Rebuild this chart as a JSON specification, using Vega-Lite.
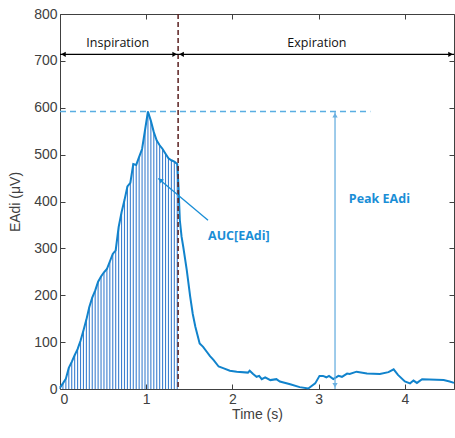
{
  "$schema": "https://vega.github.io/schema/vega-lite/v6.json",
  "width": 394,
  "height": 375,
  "autosize": "none",
  "padding": {"left": 60, "top": 14, "right": 1, "bottom": 49},
  "background": "white",
  "config": {"view": {"stroke": null}, "font": "Liberation Sans"},
  "datasets": {
    "curve": [
      {"t": 0.000, "v": 3}, {"t": 0.034, "v": 12}, {"t": 0.068, "v": 22}, {"t": 0.102, "v": 45},
      {"t": 0.136, "v": 58}, {"t": 0.170, "v": 72}, {"t": 0.204, "v": 85}, {"t": 0.238, "v": 103},
      {"t": 0.272, "v": 125}, {"t": 0.306, "v": 148}, {"t": 0.340, "v": 175}, {"t": 0.374, "v": 195},
      {"t": 0.408, "v": 210}, {"t": 0.442, "v": 229}, {"t": 0.476, "v": 240}, {"t": 0.510, "v": 249},
      {"t": 0.544, "v": 256}, {"t": 0.578, "v": 272}, {"t": 0.612, "v": 288}, {"t": 0.646, "v": 296},
      {"t": 0.680, "v": 345}, {"t": 0.714, "v": 377}, {"t": 0.748, "v": 403}, {"t": 0.782, "v": 432},
      {"t": 0.816, "v": 440}, {"t": 0.850, "v": 480}, {"t": 0.884, "v": 478}, {"t": 0.918, "v": 495},
      {"t": 0.952, "v": 512}, {"t": 0.986, "v": 552}, {"t": 1.020, "v": 592}, {"t": 1.054, "v": 572},
      {"t": 1.088, "v": 548}, {"t": 1.122, "v": 530}, {"t": 1.156, "v": 520}, {"t": 1.190, "v": 512},
      {"t": 1.224, "v": 502}, {"t": 1.258, "v": 492}, {"t": 1.292, "v": 488}, {"t": 1.326, "v": 485},
      {"t": 1.360, "v": 480},
      {"t": 1.375, "v": 430}, {"t": 1.39, "v": 360}, {"t": 1.41, "v": 325}, {"t": 1.43, "v": 303},
      {"t": 1.47, "v": 254}, {"t": 1.51, "v": 197}, {"t": 1.54, "v": 160}, {"t": 1.57, "v": 133},
      {"t": 1.62, "v": 97}, {"t": 1.66, "v": 90}, {"t": 1.70, "v": 80}, {"t": 1.74, "v": 70},
      {"t": 1.78, "v": 62}, {"t": 1.84, "v": 48}, {"t": 1.90, "v": 44}, {"t": 1.97, "v": 39},
      {"t": 2.05, "v": 37}, {"t": 2.18, "v": 35}, {"t": 2.20, "v": 39}, {"t": 2.24, "v": 32},
      {"t": 2.28, "v": 26}, {"t": 2.31, "v": 28}, {"t": 2.34, "v": 21}, {"t": 2.38, "v": 25},
      {"t": 2.44, "v": 19}, {"t": 2.51, "v": 21}, {"t": 2.55, "v": 16}, {"t": 2.67, "v": 10},
      {"t": 2.78, "v": 4}, {"t": 2.88, "v": 1}, {"t": 2.96, "v": 12}, {"t": 3.01, "v": 28},
      {"t": 3.05, "v": 28}, {"t": 3.09, "v": 25}, {"t": 3.12, "v": 28}, {"t": 3.17, "v": 21},
      {"t": 3.23, "v": 28}, {"t": 3.27, "v": 26}, {"t": 3.33, "v": 33}, {"t": 3.36, "v": 32},
      {"t": 3.44, "v": 37}, {"t": 3.56, "v": 33}, {"t": 3.71, "v": 32}, {"t": 3.81, "v": 36},
      {"t": 3.87, "v": 42}, {"t": 3.92, "v": 30}, {"t": 4.00, "v": 16}, {"t": 4.06, "v": 12},
      {"t": 4.10, "v": 18}, {"t": 4.14, "v": 13}, {"t": 4.20, "v": 21}, {"t": 4.45, "v": 19},
      {"t": 4.52, "v": 16}, {"t": 4.57, "v": 13}
    ],
    "segments": [
      {"kind": "phase", "t": 0, "t2": 1.37, "v": 714, "v2": 714},
      {"kind": "phase", "t": 1.37, "t2": 4.57, "v": 714, "v2": 714},
      {"kind": "peak", "t": 3.19, "t2": 3.19, "v": 0, "v2": 592},
      {"kind": "auc", "t": 1.717, "t2": 1.14, "v": 360, "v2": 449}
    ],
    "heads": [
      {"kind": "phase", "dir": "left", "t": 0.04, "v": 714},
      {"kind": "phase", "dir": "right", "t": 1.33, "v": 714},
      {"kind": "phase", "dir": "left", "t": 1.41, "v": 714},
      {"kind": "phase", "dir": "right", "t": 4.53, "v": 714},
      {"kind": "peak", "dir": "up", "t": 3.19, "v": 584},
      {"kind": "peak", "dir": "down", "t": 3.19, "v": 8}
    ],
    "aucHead": [{"t": 1.165, "v": 446}],
    "peakLine": [{"t": 0, "t2": 3.6, "v": 592}],
    "endInsp": [{"t": 1.37}],
    "phaseLabels": [
      {"t": 0.67, "v": 738, "label": "Inspiration"},
      {"t": 2.98, "v": 738, "label": "Expiration"}
    ],
    "annotations": [
      {"t": 3.35, "v": 405, "label": "Peak EAdi"},
      {"t": 1.717, "v": 326, "label": "AUC[EAdi]"}
    ]
  },
  "encoding": {
    "x": {"field": "t", "type": "quantitative", "axis": null, "scale": {"domain": [0, 4.57], "nice": false, "zero": false}},
    "y": {"field": "v", "type": "quantitative", "axis": null, "scale": {"domain": [0, 800], "nice": false}}
  },
  "layer": [
    {
      "data": {"name": "curve"},
      "transform": [{"filter": "datum.t <= 1.365"}],
      "mark": {"type": "rule", "color": "#3d80d0", "strokeWidth": 1.1},
      "encoding": {
        "x": {"field": "t", "type": "quantitative", "scale": {"domain": [0, 4.57], "nice": false, "zero": false},
          "axis": {"orient": "bottom", "values": [0, 1, 2, 3, 4], "format": "d", "title": "Time (s)", "grid": false,
            "tickSize": -5, "labelPadding": 8, "domainColor": "#404040", "tickColor": "#404040",
            "labelColor": "#404040", "labelFontSize": 14, "titleFontSize": 14, "titleFontWeight": "normal",
            "titleColor": "#404040", "titlePadding": 1, "labelFont": "Liberation Sans", "titleFont": "Liberation Sans"}},
        "y": {"field": "v", "type": "quantitative", "scale": {"domain": [0, 800], "nice": false},
          "axis": {"orient": "left", "values": [0, 100, 200, 300, 400, 500, 600, 700, 800], "title": "EAdi (μV)", "grid": false,
            "tickSize": -5, "labelPadding": 8, "domainColor": "#404040", "tickColor": "#404040",
            "labelColor": "#404040", "labelFontSize": 14, "titleFontSize": 14, "titleFontWeight": "normal",
            "titleColor": "#404040", "titlePadding": 11, "labelFont": "Liberation Sans", "titleFont": "Liberation Sans"}},
        "y2": {"datum": 0}
      }
    },
    {
      "data": {"name": "curve"},
      "mark": {"type": "line", "color": "#1183cc", "strokeWidth": 2},
      "encoding": {
        "x": {"field": "t", "type": "quantitative",
          "axis": {"orient": "top", "values": [0, 1, 2, 3, 4], "labels": false, "title": null, "grid": false,
            "tickSize": -5, "domainColor": "#404040", "tickColor": "#404040"}},
        "y": {"field": "v", "type": "quantitative",
          "axis": {"orient": "right", "values": [0, 100, 200, 300, 400, 500, 600, 700, 800], "labels": false, "title": null, "grid": false,
            "tickSize": -5, "domainColor": "#404040", "tickColor": "#404040"}}
      }
    },
    {
      "data": {"name": "peakLine"},
      "mark": {"type": "rule", "color": "#5aaee2", "strokeWidth": 1.5, "strokeDash": [6, 4]},
      "encoding": {"x2": {"field": "t2"}}
    },
    {
      "data": {"name": "endInsp"},
      "mark": {"type": "rule", "color": "#5a2020", "strokeWidth": 1.5, "strokeDash": [5, 3]},
      "encoding": {"y": {"value": 0}, "y2": {"value": 375}}
    },
    {
      "data": {"name": "segments"},
      "mark": {"type": "rule", "strokeWidth": 1.3},
      "encoding": {
        "x2": {"field": "t2"},
        "y2": {"field": "v2"},
        "color": {"field": "kind", "type": "nominal", "legend": null,
          "scale": {"domain": ["phase", "peak", "auc"], "range": ["#000000", "#6ab0e0", "#1a8ed6"]}}
      }
    },
    {
      "data": {"name": "heads"},
      "mark": {"type": "point", "filled": true, "size": 28, "opacity": 1},
      "encoding": {
        "shape": {"field": "dir", "type": "nominal", "legend": null,
          "scale": {"domain": ["left", "right", "up", "down"], "range": ["triangle-left", "triangle-right", "triangle-up", "triangle-down"]}},
        "color": {"field": "kind", "type": "nominal", "legend": null,
          "scale": {"domain": ["phase", "peak", "auc"], "range": ["#000000", "#6ab0e0", "#1a8ed6"]}}
      }
    },
    {
      "data": {"name": "aucHead"},
      "mark": {"type": "point", "shape": "triangle-up", "filled": true, "size": 28, "opacity": 1, "angle": 310, "color": "#1a8ed6"}
    },
    {
      "data": {"name": "phaseLabels"},
      "mark": {"type": "text", "font": "Open Sans", "fontSize": 12.5, "color": "#111111", "align": "center", "baseline": "middle"},
      "encoding": {"text": {"field": "label"}}
    },
    {
      "data": {"name": "annotations"},
      "mark": {"type": "text", "font": "Open Sans", "fontSize": 12.5, "fontWeight": "bold", "color": "#1a8ed6", "align": "left", "baseline": "middle"},
      "encoding": {"text": {"field": "label"}}
    }
  ],
  "resolve": {"axis": {"x": "independent", "y": "independent"}}
}
